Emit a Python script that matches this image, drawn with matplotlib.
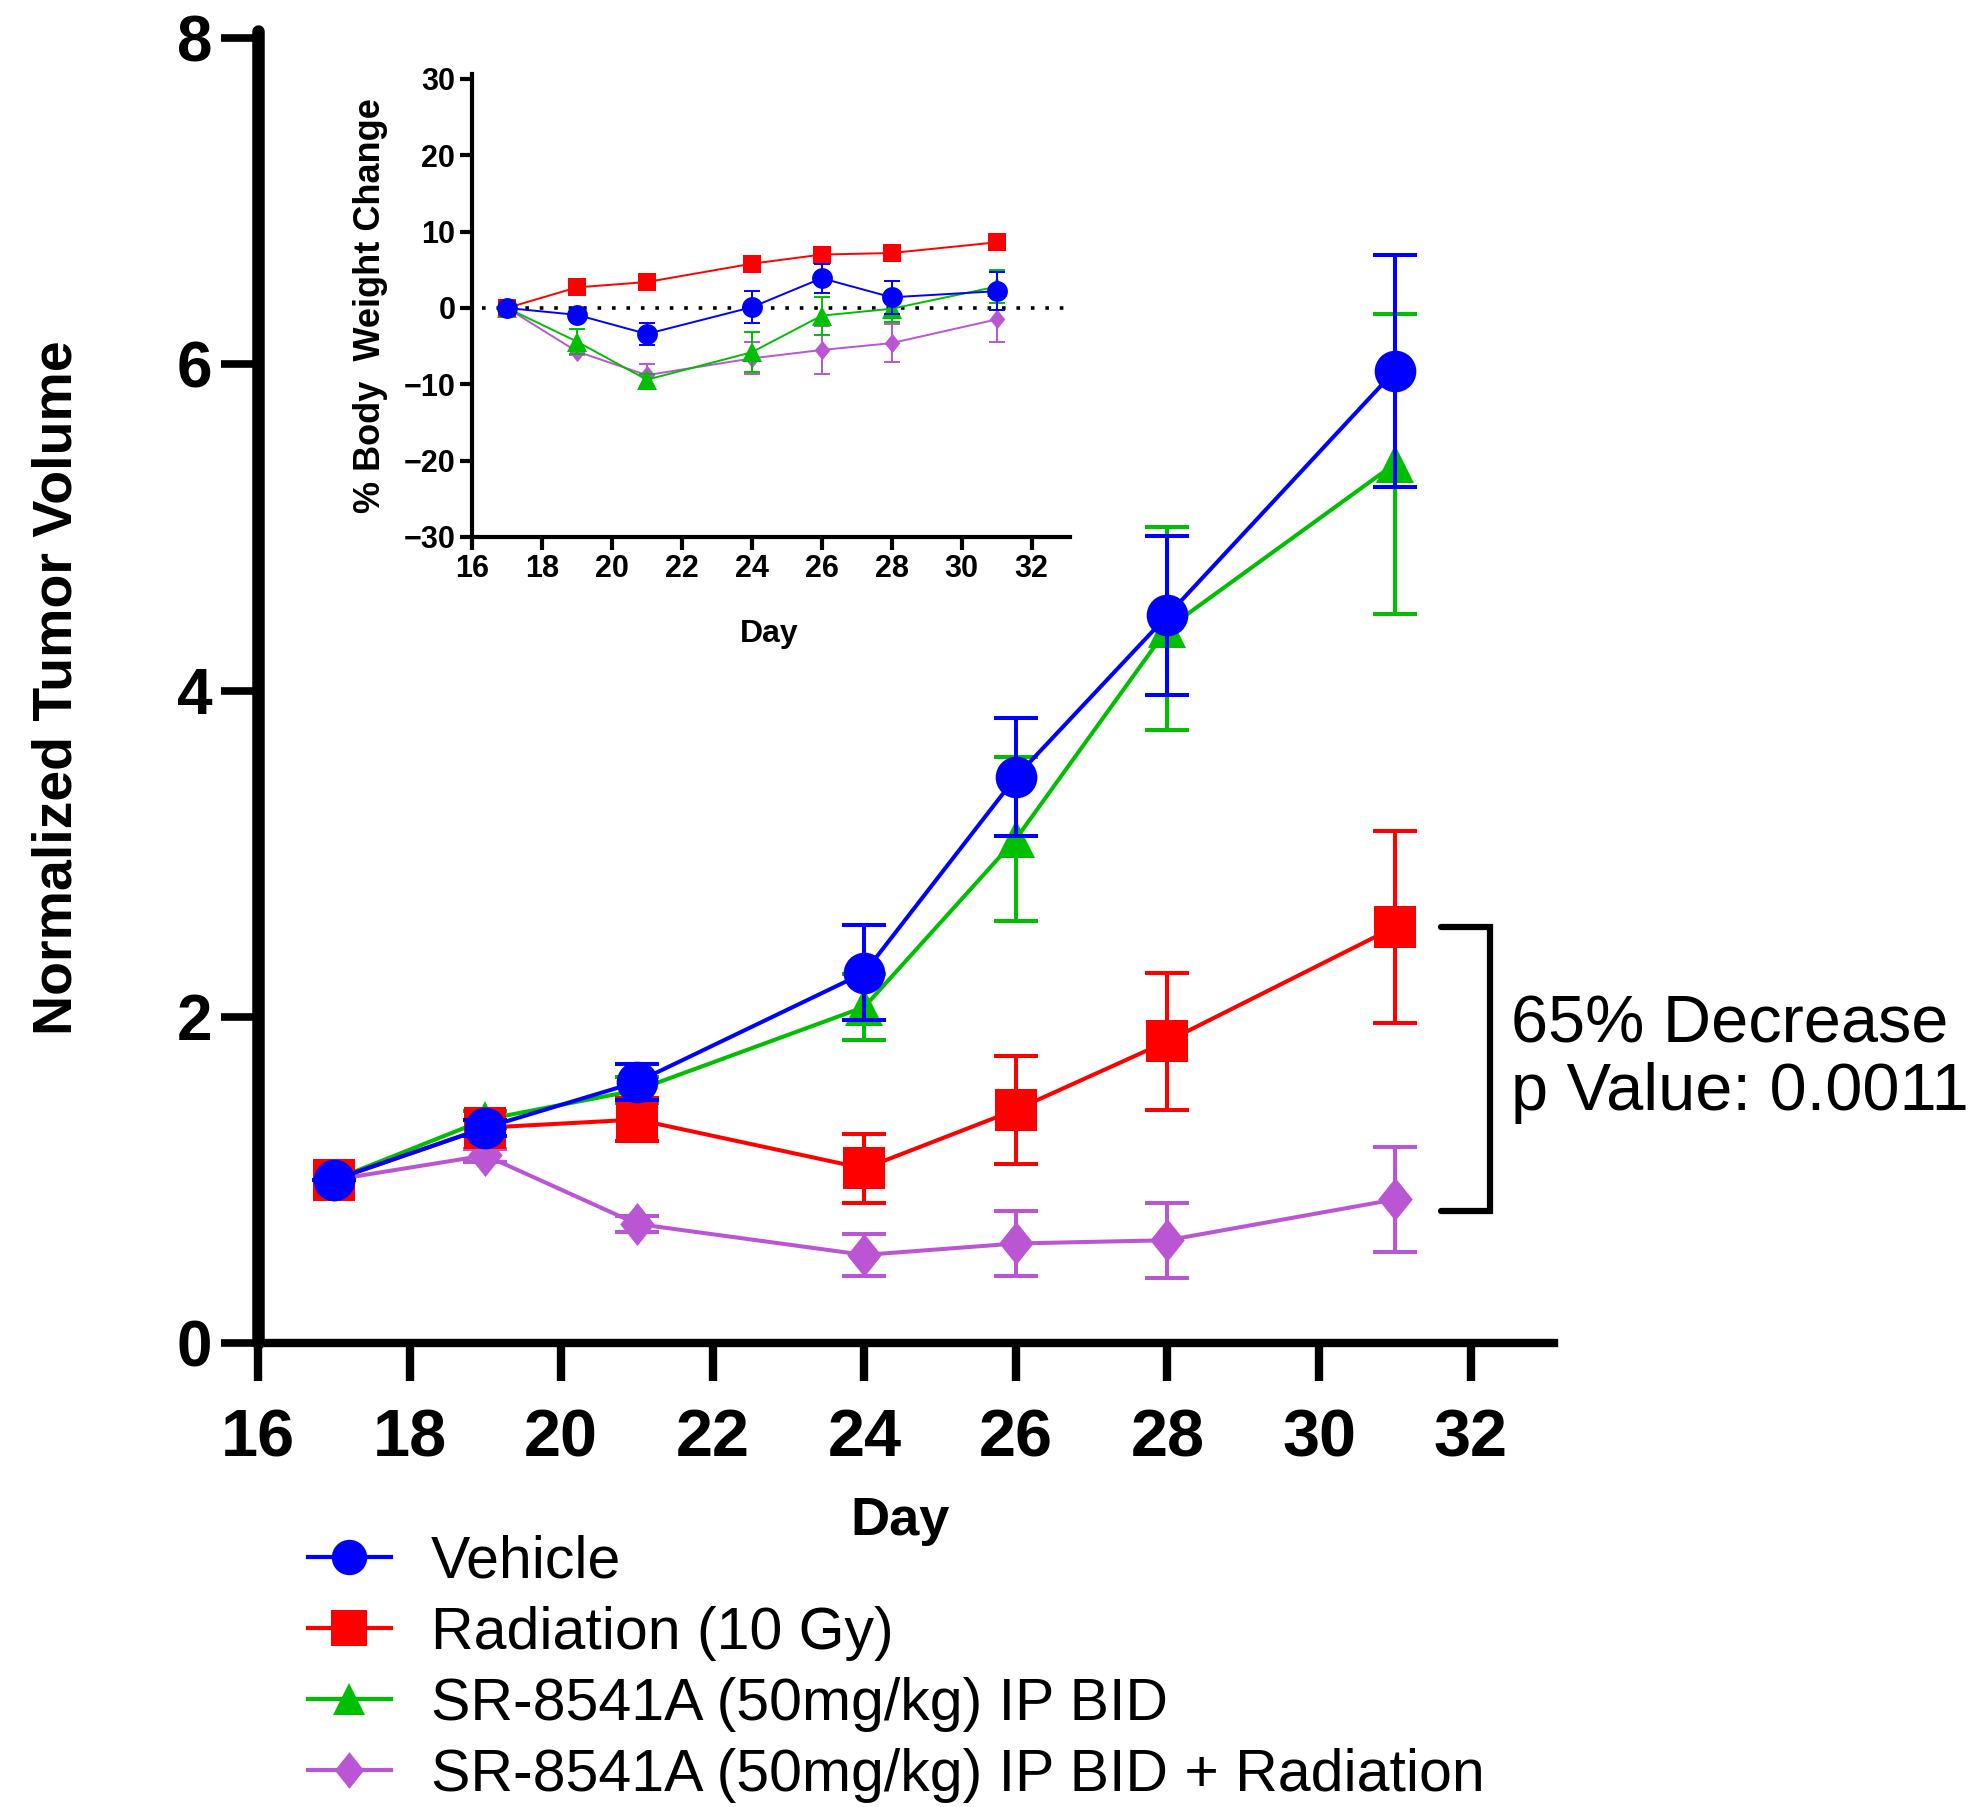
import matplotlib
matplotlib.use("Agg")
import matplotlib.pyplot as plt
from matplotlib.lines import Line2D

plt.rcParams['font.family'] = ['Liberation Sans', 'DejaVu Sans']

# ---------------- data ----------------
days = [17, 19, 21, 24, 26, 28, 31]

labels = ["Vehicle", "Radiation (10 Gy)", "SR-8541A (50mg/kg) IP BID",
          "SR-8541A (50mg/kg) IP BID + Radiation"]

# main chart: normalized tumor volume (mean, SEM)
veh_tv = [1.00, 1.32, 1.60, 2.27, 3.47, 4.46, 5.96]
veh_tv_err = [0.0, 0.05, 0.11, 0.29, 0.36, 0.49, 0.71]
rad_tv = [1.00, 1.32, 1.37, 1.07, 1.43, 1.85, 2.55]
rad_tv_err = [0.0, 0.05, 0.13, 0.21, 0.33, 0.42, 0.59]
sr_tv = [1.00, 1.37, 1.55, 2.06, 3.09, 4.38, 5.39]
sr_tv_err = [0.0, 0.05, 0.08, 0.20, 0.50, 0.62, 0.92]
combo_tv = [1.00, 1.15, 0.73, 0.54, 0.61, 0.63, 0.88]
combo_tv_err = [0.0, 0.04, 0.05, 0.13, 0.20, 0.23, 0.32]

# inset: % body weight change (mean, SEM)
veh_bw = [0.0, -0.9, -3.4, 0.1, 3.9, 1.4, 2.2]
veh_bw_err = [0.0, 0.5, 1.4, 2.1, 1.9, 2.2, 2.5]
rad_bw = [0.0, 2.7, 3.4, 5.8, 7.0, 7.2, 8.6]
rad_bw_err = [0.0, 0.4, 0.4, 0.5, 0.5, 0.5, 0.5]
sr_bw = [0.0, -4.4, -9.4, -5.8, -1.0, -0.1, 2.8]
sr_bw_err = [0.0, 1.6, 0.8, 2.6, 2.5, 1.8, 2.2]
combo_bw = [0.0, -5.7, -8.8, -6.6, -5.5, -4.6, -1.5]
combo_bw_err = [0.0, 0.5, 1.4, 2.1, 3.2, 2.5, 3.0]

annot_text = "65% Decrease\np Value: 0.0011"

# ---------------- styles ----------------
colors = ['#0000FF', '#FF0000', '#00BE00', '#BA55D3']
diamond = [(0, 1), (0.8, 0), (0, -1), (-0.8, 0)]
markers = ['o', 's', '^', diamond]
main_ms = [30, 30, 27, 31]
inset_ms = [15, 13.5, 14, 14]
zorders = [6, 5, 4, 3]

W, H = 1973, 1807
fig = plt.figure(figsize=(W / 100, H / 100), dpi=100)


def draw_series(axis, x, y, e, i, ms, lw, capsize):
    axis.errorbar(x, y, yerr=e, fmt='none', ecolor=colors[i], elinewidth=lw,
                  capsize=capsize, capthick=lw, zorder=zorders[i],
                  clip_on=False)
    axis.plot(x, y, color=colors[i], marker=markers[i], markersize=ms,
              lw=lw, markeredgewidth=0, zorder=zorders[i] + 0.5,
              clip_on=False)


# ---------------- main axes ----------------
ax_l, ax_r, ax_t, ax_b = 258, 1554, 31.5, 1343
ax = fig.add_axes([ax_l / W, 1 - ax_b / H, (ax_r - ax_l) / W, (ax_b - ax_t) / H])

main_series = [(veh_tv, veh_tv_err), (rad_tv, rad_tv_err), (sr_tv, sr_tv_err),
               (combo_tv, combo_tv_err)]
for i, (y, e) in enumerate(main_series):
    draw_series(ax, days, y, e, i, main_ms[i], 2.9, 15.5)

ax.set_xlim(16, 33.1)
ax.set_ylim(0, 8.04)
ax.set_xticks(range(16, 33, 2))
ax.set_yticks(range(0, 9, 2))
for s in ['top', 'right']:
    ax.spines[s].set_visible(False)
ax.spines['left'].set_linewidth(9)
ax.spines['bottom'].set_linewidth(6)
ax.spines['left'].set_bounds(0, 8.04)
ax.spines['left'].set_capstyle('round')
ax.tick_params(axis='y', length=27, width=5.5, pad=6, labelsize=46)
ax.tick_params(axis='x', length=27, width=6, pad=20, labelsize=48)
for lab in ax.get_xticklabels() + ax.get_yticklabels():
    lab.set_fontweight('bold')

ax.set_ylabel("Normalized Tumor Volume", fontsize=40, fontweight='bold')
ax.yaxis.set_label_coords((84 - ax_l) / (ax_r - ax_l), 0.50)
ax.set_xlabel("Day", fontsize=39, fontweight='bold')
ax.xaxis.set_label_coords((900 - ax_l) / (ax_r - ax_l), (ax_b - 1496) / (ax_b - ax_t))

# bracket + annotation
br_x0, br_x1 = 31.61, 32.25
ax.plot([br_x0, br_x1, br_x1, br_x0],
        [rad_tv[-1], rad_tv[-1], combo_tv[-1] - 0.07, combo_tv[-1] - 0.07],
        color='black', lw=4.5, solid_capstyle='round', solid_joinstyle='miter',
        clip_on=False, zorder=7)
ax.text(32.53, 1.74, annot_text, fontsize=48, ha='left', va='center',
        linespacing=1.1)

# legend
handles = [Line2D([], [], color=colors[i], marker=markers[i], lw=3,
                  markersize=main_ms[i] * 0.85, markeredgewidth=0)
           for i in range(4)]
fig.legend(handles, labels, loc='upper left',
           bbox_to_anchor=(308 / W, 1 - 1535 / H), frameon=False,
           fontsize=42.5, handlelength=1.4, handletextpad=0.68,
           labelspacing=0.27, borderpad=0, borderaxespad=0, numpoints=1)

# ---------------- inset ----------------
in_l, in_r, in_t, in_b = 472, 1070, 74.4, 537
ins = fig.add_axes([in_l / W, 1 - in_b / H, (in_r - in_l) / W, (in_b - in_t) / H])
inset_series = [(veh_bw, veh_bw_err), (rad_bw, rad_bw_err), (sr_bw, sr_bw_err),
                (combo_bw, combo_bw_err)]
ins.axhline(0, xmin=(16.3 - 16) / 17.1, xmax=1.0, color='black', lw=2.6,
            ls=(0, (1, 3)), zorder=2)
for i, (y, e) in enumerate(inset_series):
    draw_series(ins, days, y, e, i, inset_ms[i], 1.4, 5.5)
ins.set_xlim(16, 33.1)
ins.set_ylim(-30, 30.6)
ins.set_xticks(range(16, 33, 2))
ins.set_yticks(range(-30, 31, 10))
for s in ['top', 'right']:
    ins.spines[s].set_visible(False)
for s in ['left', 'bottom']:
    ins.spines[s].set_linewidth(3)
ins.tick_params(length=9, width=3, pad=3, labelsize=22)
for lab in ins.get_xticklabels() + ins.get_yticklabels():
    lab.set_fontweight('bold')
ins.set_ylabel("% Body  Weight Change", fontsize=26, fontweight='bold')
ins.yaxis.set_label_coords((388 - in_l) / (in_r - in_l), 0.5)
ins.set_xlabel("Day", fontsize=23, fontweight='bold')
ins.xaxis.set_label_coords((769 - in_l) / (in_r - in_l), (in_b - 619) / (in_b - in_t))

fig.savefig("out.png", dpi=100)
